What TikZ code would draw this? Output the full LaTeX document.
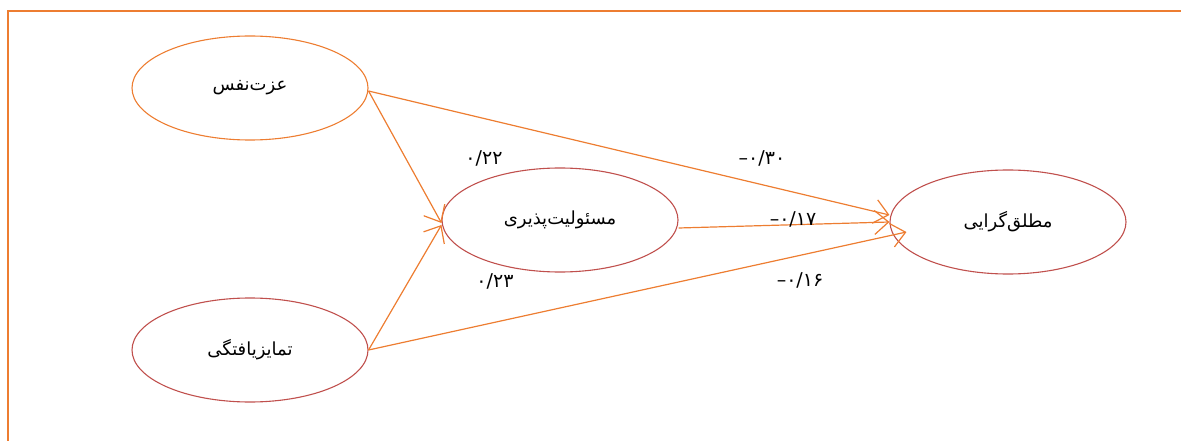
\documentclass[tikz,border=0pt]{standalone}
\usepackage{fontspec}
\setmainfont{DejaVu Sans}
\newfontfamily\arabicfont[Script=Arabic]{DejaVu Sans}
\TeXXeTstate=1
\usetikzlibrary{shapes.geometric,arrows.meta}
\definecolor{orng}{HTML}{ED7D31}
\definecolor{rd}{HTML}{C0504D}
\begin{document}
\begin{tikzpicture}[x=1pt,y=-1pt,
  var/.style={ellipse, draw=rd, line width=1.1pt, minimum width=236pt, minimum height=104pt, inner sep=0pt, font=\arabicfont\fontsize{18}{20}\selectfont},
  pathc/.style={draw=orng, line width=1.2pt, -{Straight Barb[length=14pt,width=24pt]}},
  coef/.style={font=\fontsize{19}{21}\selectfont, inner sep=0pt}]
\useasboundingbox (0,0) rectangle (1181,441);
\coordinate (fa) at (8,441);
\coordinate (fb) at (8,11);
\coordinate (fc) at (1181,11);
\draw[orng, line width=1.5pt] (fa) -- (fb) -- (fc);
\node[var, draw=orng] (self) at (250,88) {\beginR عزت‌نفس\endR};
\node[var] (resp) at (560,220) {\beginR مسئولیت‌پذیری\endR};
\node[var] (abs) at (1008,222) {\beginR مطلق‌گرایی\endR};
\node[var] (diff) at (250,350) {\beginR تمایزیافتگی\endR};
\draw[pathc] ([yshift=-3pt]self.east) -- ([yshift=7pt]abs.west);
\draw[pathc] ([yshift=-3pt]self.east) -- ([yshift=-3pt]resp.west);
\draw[pathc] (diff.east) -- ([yshift=-5pt]resp.west);
\draw[pathc] (diff.east) -- ([xshift=17pt,yshift=-10pt]abs.west);
\draw[pathc] ([yshift=-8pt]resp.east) -- (abs.west);
\node[coef] (c1) at (484,158) {۰/۲۲};
\node[coef] (c2) at (495,281) {۰/۲۳};
\node[coef] (c3) at (762,158) {–۰/۳۰};
\node[coef] (c4) at (793,219) {–۰/۱۷};
\node[coef] (c5) at (800,280) {–۰/۱۶};
\end{tikzpicture}
\end{document}
